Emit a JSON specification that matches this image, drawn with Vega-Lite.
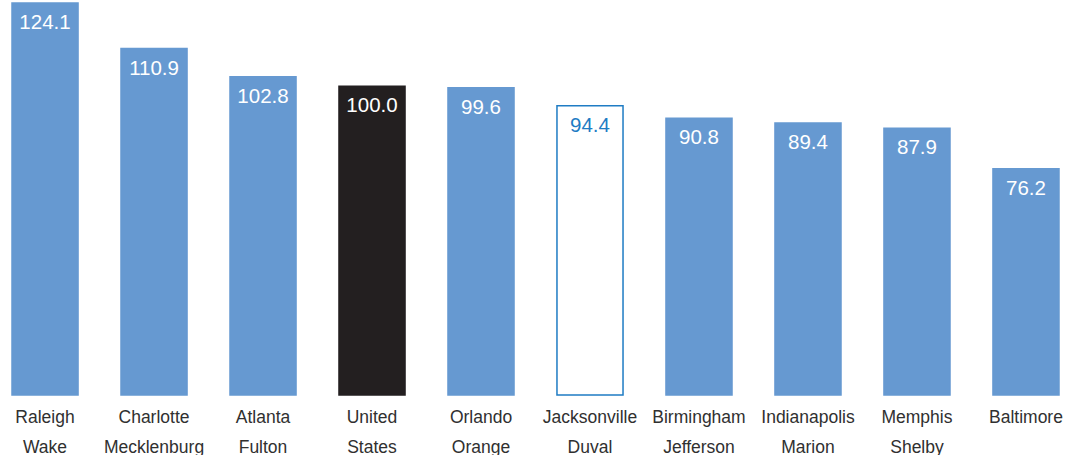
{
  "$schema": "https://vega.github.io/schema/vega-lite/v6.json",
  "width": 1047,
  "height": 390,
  "autosize": "none",
  "padding": {"left": 12, "top": 5, "right": 17, "bottom": 60},
  "background": "white",
  "config": {
    "view": {"stroke": null},
    "font": "Liberation Sans"
  },
  "data": {
    "values": [
      {"place": "Raleigh|Wake", "index": 124.1, "kind": "county"},
      {"place": "Charlotte|Mecklenburg", "index": 110.9, "kind": "county"},
      {"place": "Atlanta|Fulton", "index": 102.8, "kind": "county"},
      {"place": "United|States", "index": 100.0, "kind": "nation"},
      {"place": "Orlando|Orange", "index": 99.6, "kind": "county"},
      {"place": "Jacksonville|Duval", "index": 94.4, "kind": "focus"},
      {"place": "Birmingham|Jefferson", "index": 90.8, "kind": "county"},
      {"place": "Indianapolis|Marion", "index": 89.4, "kind": "county"},
      {"place": "Memphis|Shelby", "index": 87.9, "kind": "county"},
      {"place": "Baltimore", "index": 76.2, "kind": "county"}
    ]
  },
  "encoding": {
    "x": {
      "field": "place",
      "type": "nominal",
      "sort": null,
      "scale": {"paddingInner": 0.394, "paddingOuter": 0},
      "axis": {
        "title": null,
        "domain": false,
        "ticks": false,
        "labelAngle": 0,
        "labelExpr": "split(datum.value, '|')",
        "labelFont": "Liberation Sans",
        "labelFontSize": 17.5,
        "labelColor": "#303030",
        "labelPadding": 13,
        "labelLineHeight": 30.5,
        "labelBaseline": "top"
      }
    },
    "y": {
      "field": "index",
      "type": "quantitative",
      "scale": {"domain": [10.8, 123.5], "zero": false, "nice": false},
      "axis": null
    }
  },
  "layer": [
    {
      "mark": {"type": "bar", "strokeWidth": 1.5},
      "encoding": {
        "y2": {"datum": 10.8},
        "fill": {
          "field": "kind",
          "type": "nominal",
          "scale": {"domain": ["county", "nation", "focus"], "range": ["#6699d1", "#231f20", "#ffffff"]},
          "legend": null
        },
        "stroke": {
          "field": "kind",
          "type": "nominal",
          "scale": {"domain": ["county", "nation", "focus"], "range": ["#6699d1", "#231f20", "#1f7cc4"]},
          "legend": null
        }
      }
    },
    {
      "mark": {"type": "text", "baseline": "middle", "dy": 20, "fontSize": 20.5, "font": "Liberation Sans"},
      "encoding": {
        "text": {"field": "index", "type": "quantitative", "format": ".1f"},
        "color": {
          "field": "kind",
          "type": "nominal",
          "scale": {"domain": ["county", "nation", "focus"], "range": ["#ffffff", "#ffffff", "#1f7cc4"]},
          "legend": null
        }
      }
    }
  ]
}
